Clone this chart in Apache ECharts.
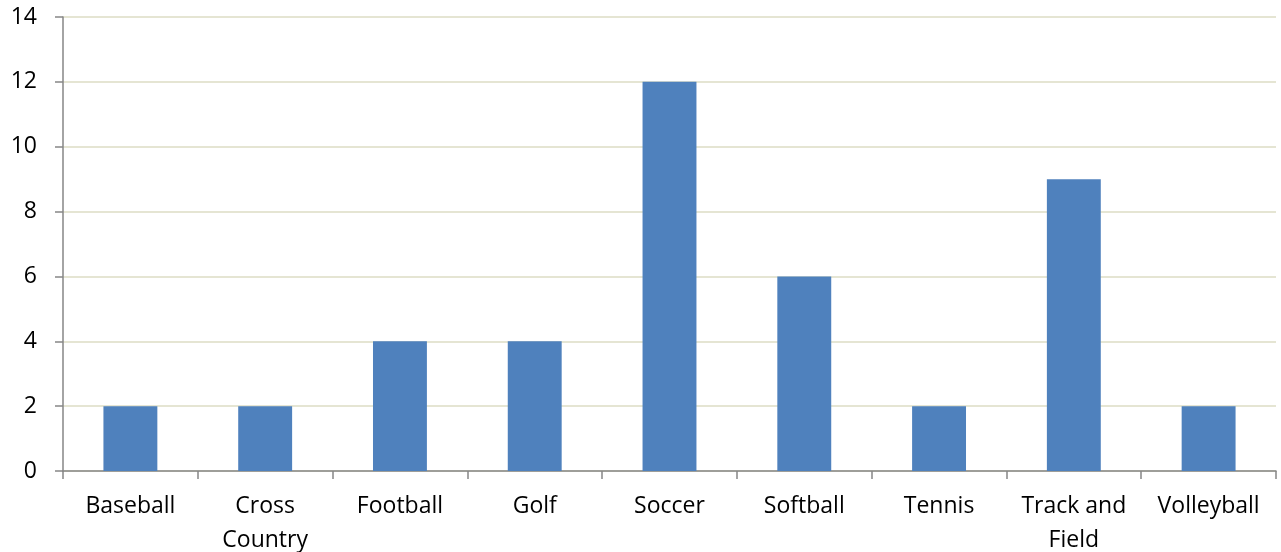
<!DOCTYPE html>
<html><head><meta charset="utf-8">
<script src="https://cdn.jsdelivr.net/npm/echarts@6/dist/echarts.min.js"></script>
<style>html,body{margin:0;padding:0;background:#fff}#c{width:1281px;height:552px}</style>
</head><body><div id="c"></div>
<script>
var categories = ['Baseball', 'Cross\nCountry', 'Football', 'Golf', 'Soccer', 'Softball', 'Tennis', 'Track and\nField', 'Volleyball'];
var values = [2, 2, 4, 4, 12, 6, 2, 9, 2];
var yTicks = [0, 2, 4, 6, 8, 10, 12, 14];
var chart = echarts.init(document.getElementById('c'));
chart.setOption({
  animation: false,
  grid: {left: 63, right: 5, top: 17, bottom: 81, containLabel: false, outerBoundsMode: 'none'},
  xAxis: {
    type: 'category', data: categories,
    axisLine: {lineStyle: {color: '#868686', width: 1.5}},
    axisTick: {show: true, length: 8, lineStyle: {color: '#868686', width: 1.5}, alignWithLabel: false},
    axisLabel: {color: '#000', fontFamily: 'Open Sans', fontSize: 23, margin: 18, lineHeight: 34, interval: 0}
  },
  yAxis: {
    type: 'value', min: 0, max: 14, interval: 2,
    axisLine: {show: true, lineStyle: {color: '#868686', width: 1.5}},
    axisTick: {show: true, length: 8, lineStyle: {color: '#868686', width: 1.5}},
    splitLine: {lineStyle: {color: '#dcdcc4', width: 1.5}},
    axisLabel: {color: '#000', fontFamily: 'Open Sans', fontSize: 23, margin: 26,
      formatter: function (v) { return yTicks.indexOf(v) >= 0 ? String(v) : ''; }}
  },
  series: [{type: 'bar', data: values, barWidth: '40%', itemStyle: {color: '#4F81BD'}}]
});
</script></body></html>
